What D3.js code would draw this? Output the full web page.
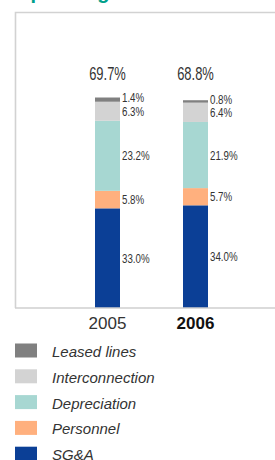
<!DOCTYPE html>
<html>
<head>
<meta charset="utf-8">
<script src="https://cdn.jsdelivr.net/npm/d3@7"></script>
<style>
  body { margin: 0; background: #fff; }
  svg { display: block; font-family: "Liberation Sans", Arial, sans-serif; }
</style>
</head>
<body>
<div id="chart"></div>
<script>
// Operating cost breakdown, stacked bars per year

const years = ["2005", "2006"]
const categories = ["SG&A", "Personnel", "Depreciation", "Interconnection", "Leased lines"]
const sga = [33.0, 34.0]
const personnel = [5.8, 5.7]
const depreciation = [23.2, 21.9]
const interconnection = [6.3, 6.4]
const leasedLines = [1.4, 0.8]
const totals = [69.7, 68.8]
const legendOrder = ["Leased lines", "Interconnection", "Depreciation", "Personnel", "SG&A"]

const COLORS = {
  "SG&A": "#0b3f96",
  "Personnel": "#ffb07e",
  "Depreciation": "#a7d7d2",
  "Interconnection": "#d3d3d3",
  "Leased lines": "#808080"
}

const WIDTH = 275
const HEIGHT = 460
const BASE_Y = 308
const BAR_W = 25

const svg = d3.select("#chart")
  .append("svg")
    .attr("width", WIDTH)
    .attr("height", HEIGHT)

// title, cut off at the top edge
svg.append("text")
  .attr("x", 15)
  .attr("y", -1)
  .attr("fill", "#00a08a")
  .attr("font-size", 20)
  .attr("font-weight", "bold")
  .text("Operating costs")

// frame
svg.append("path")
  .attr("d", `M15.5,${BASE_Y} V12.5 H${WIDTH}`)
  .attr("fill", "none")
  .attr("stroke", "#d2d2d2")
  .attr("stroke-width", 1.6)

const table = years.map((y, i) => ({
  year: y,
  "SG&A": sga[i],
  "Personnel": personnel[i],
  "Depreciation": depreciation[i],
  "Interconnection": interconnection[i],
  "Leased lines": leasedLines[i],
  total: totals[i]
}))

const stack = d3.stack().keys(categories)(table)

const x = d3.scalePoint()
  .domain(years)
  .range([63.5, 239.5])
  .padding(0.5)

const y = d3.scaleLinear()
  .domain([0, 100])
  .range([BASE_Y, 6])

// helper for condensed labels (squeezed horizontally)
function narrowText(sel, px, py, size, anchor, squeeze) {
  return sel.append("text")
    .attr("transform", `translate(${px},${py}) scale(${squeeze},1)`)
    .attr("font-size", size)
    .attr("text-anchor", anchor)
    .attr("fill", "#333")
}

stack.forEach(layer => {
  const key = layer.key
  svg.append("g")
    .selectAll("rect")
    .data(layer)
    .join("rect")
      .attr("x", d => x(d.data.year) - BAR_W / 2)
      .attr("y", d => y(d[1]))
      .attr("width", BAR_W)
      .attr("height", d => y(d[0]) - y(d[1]))
      .attr("fill", COLORS[key])

  // top thin segment label sits a little higher so it clears the next one
  const shift = key === "Leased lines" ? 2.5 : 4.5
  layer.forEach(d => {
    const mid = (y(d[0]) + y(d[1])) / 2
    narrowText(svg, x(d.data.year) + BAR_W / 2 + 2, mid + shift, 12.5, "start", 0.78)
      .text(d.data[key].toFixed(1) + "%")
  })
})

// totals above bars
table.forEach(d => {
  narrowText(svg, x(d.year), 80, 17.5, "middle", 0.74)
    .text(d.total.toFixed(1) + "%")
})

// x axis line
svg.append("line")
  .attr("x1", 15)
  .attr("x2", WIDTH)
  .attr("y1", BASE_Y)
  .attr("y2", BASE_Y)
  .attr("stroke", "#cfcfcf")
  .attr("stroke-width", 1.6)

// year labels
svg.append("g")
  .selectAll("text")
  .data(years)
  .join("text")
    .attr("x", d => x(d))
    .attr("y", 329)
    .attr("text-anchor", "middle")
    .attr("font-size", 17)
    .attr("font-weight", (d, i) => i === years.length - 1 ? "bold" : "normal")
    .attr("fill", (d, i) => i === years.length - 1 ? "#111" : "#333")
    .text(d => d)

// legend
const legend = svg.append("g")
  .selectAll("g")
  .data(legendOrder)
  .join("g")
    .attr("transform", (d, i) => `translate(15,${343.5 + i * 25.8})`)

legend.append("rect")
  .attr("width", 22)
  .attr("height", 14)
  .attr("fill", d => COLORS[d])

legend.append("text")
  .attr("x", 37)
  .attr("y", 13.5)
  .attr("font-size", 15)
  .attr("font-style", "italic")
  .attr("fill", "#333")
  .text(d => d)
</script>
</body>
</html>
